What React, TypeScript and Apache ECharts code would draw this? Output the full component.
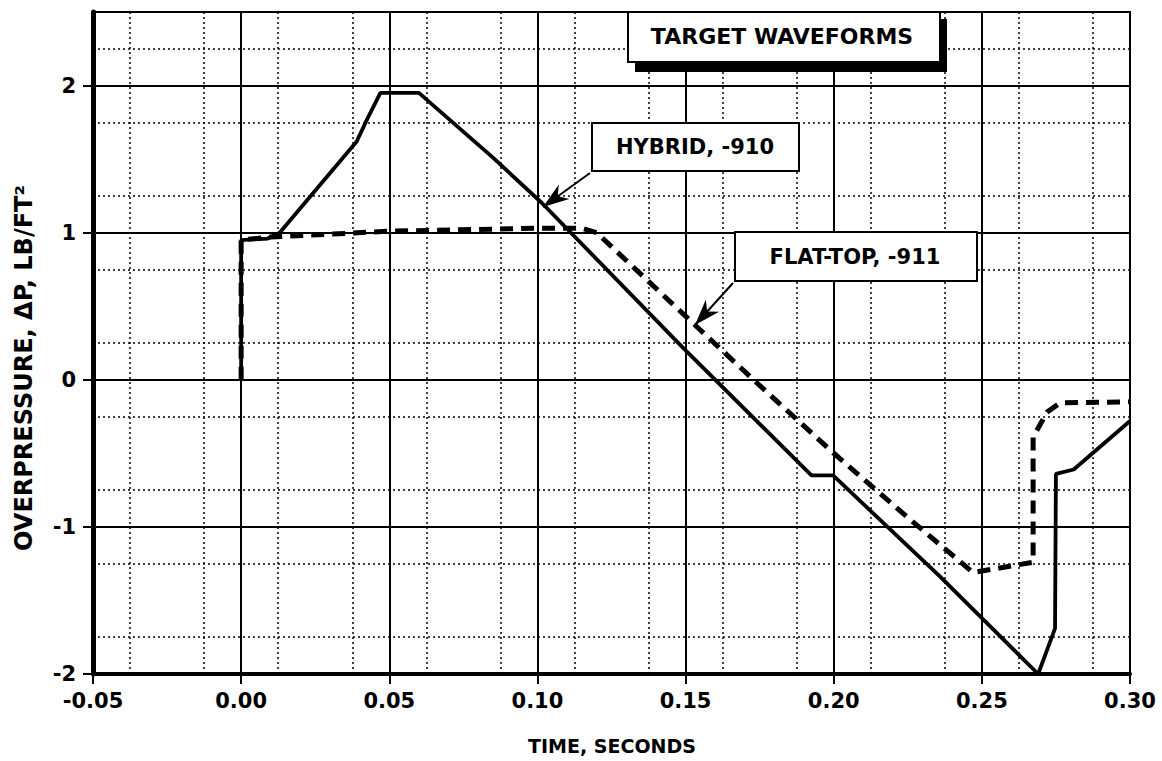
import React, { useEffect, useRef } from "react";
import * as echarts from "echarts";

const xTickValues = [-0.05, 0, 0.05, 0.1, 0.15, 0.2, 0.25, 0.3];
const yTickValues = [-2, -1, 0, 1, 2];

const hybridX = [0, 0, 0.009, 0.013, 0.039, 0.0425, 0.047, 0.06, 0.085, 0.1016, 0.149, 0.1925, 0.1998, 0.236, 0.269, 0.2747, 0.275, 0.281, 0.3];
const hybridY = [0, 0.95, 0.96, 1.0, 1.62, 1.77, 1.95, 1.95, 1.51, 1.2, 0.22, -0.65, -0.65, -1.34, -2.0, -1.69, -0.64, -0.61, -0.28];

const flatX = [0, 0, 0.01, 0.05, 0.1, 0.115, 0.12, 0.148, 0.174, 0.1995, 0.2258, 0.247, 0.2673, 0.2673, 0.272, 0.2764, 0.3];
const flatY = [0, 0.95, 0.97, 1.01, 1.03, 1.03, 1.0, 0.47, -0.02, -0.49, -0.95, -1.31, -1.24, -0.39, -0.22, -0.157, -0.15];

const FONT = '"DejaVu Sans", "Liberation Sans", sans-serif';

function arrowHead(fx: number, fy: number, tx: number, ty: number, len: number, hw: number) {
  const dx = tx - fx, dy = ty - fy;
  const L = Math.hypot(dx, dy);
  const ux = dx / L, uy = dy / L;
  const nx = -uy, ny = ux;
  const bx = tx - ux * len, by = ty - uy * len;
  const mx = tx - ux * len * 0.7, my = ty - uy * len * 0.7;
  return [
    [tx, ty],
    [bx + nx * hw, by + ny * hw],
    [mx, my],
    [bx - nx * hw, by - ny * hw],
  ];
}

function label(text: string, x: number, y: number, size: number, rot = 0) {
  return {
    type: "text",
    x,
    y,
    rotation: rot,
    z: 110,
    style: {
      text,
      fill: "#000",
      fontFamily: FONT,
      fontWeight: "bold",
      fontSize: size,
      align: "center",
      verticalAlign: "middle",
    },
  };
}

export default function App() {
  const ref = useRef<HTMLDivElement>(null);
  useEffect(() => {
    if (!ref.current) return;
    const chart = echarts.init(ref.current, undefined, { renderer: "svg" });
    const hybrid = hybridX.map((x, i) => [x, hybridY[i]]);
    const flat = flatX.map((x, i) => [x, flatY[i]]);

    const hyFrom = [590, 173], hyTip = [543, 207];
    const ftFrom = [733, 283], ftTip = [695, 325];

    chart.setOption({
      animation: false,
      backgroundColor: "#fff",
      grid: {
        left: 93,
        right: 32,
        top: 12,
        bottom: 87,
        show: true,
        borderColor: "#000",
        borderWidth: 2,
        backgroundColor: "#fff",
      },
      xAxis: {
        type: "value",
        min: -0.05,
        max: 0.3,
        interval: 0.025,
        axisLine: { show: true, onZero: false, lineStyle: { color: "#000", width: 4 } },
        axisTick: {
          show: true,
          customValues: xTickValues,
          length: 10,
          lineStyle: { color: "#000", width: 2 },
        },
        axisLabel: {
          customValues: xTickValues,
          formatter: (v: number) => v.toFixed(2),
          color: "#000",
          fontFamily: FONT,
          fontWeight: "bold",
          fontSize: 21,
          margin: 16,
        },
        splitLine: { show: true, lineStyle: { color: "#000", width: 2 } },
        minorTick: { show: false, splitNumber: 2 },
        minorSplitLine: { show: true, lineStyle: { color: "#000", width: 1.5, type: [2, 3] } },
      },
      yAxis: {
        type: "value",
        min: -2,
        max: 2.5,
        interval: 0.5,
        axisLine: { show: true, onZero: false, lineStyle: { color: "#000", width: 5 } },
        axisTick: {
          show: true,
          customValues: yTickValues,
          length: 10,
          lineStyle: { color: "#000", width: 2 },
        },
        axisLabel: {
          customValues: yTickValues,
          formatter: (v: number) => String(Math.round(v)),
          color: "#000",
          fontFamily: FONT,
          fontWeight: "bold",
          fontSize: 21,
          margin: 17,
        },
        splitLine: { show: true, lineStyle: { color: "#000", width: 2 } },
        minorTick: { show: false, splitNumber: 2 },
        minorSplitLine: { show: true, lineStyle: { color: "#000", width: 1.5, type: [2, 3] } },
      },
      series: [
        {
          name: "HYBRID, -910",
          type: "line",
          data: hybrid,
          showSymbol: false,
          symbol: "none",
          z: 5,
          lineStyle: { color: "#000", width: 3.8 },
        },
        {
          name: "FLAT-TOP, -911",
          type: "line",
          data: flat,
          showSymbol: false,
          symbol: "none",
          z: 4,
          lineStyle: { color: "#000", width: 5, type: [13, 8] },
        },
      ],
      graphic: [
        { type: "rect", z: 100, shape: { x: 635, y: 19, width: 312, height: 53 }, style: { fill: "#000" } },
        { type: "rect", z: 101, shape: { x: 628, y: 12, width: 312, height: 50 }, style: { fill: "#fff", stroke: "#000", lineWidth: 2 } },
        label("TARGET WAVEFORMS", 782, 36, 22),
        { type: "rect", z: 101, shape: { x: 592, y: 123, width: 207, height: 48 }, style: { fill: "#fff", stroke: "#000", lineWidth: 2 } },
        label("HYBRID, -910", 695, 147, 21),
        { type: "rect", z: 101, shape: { x: 735, y: 232, width: 242, height: 49 }, style: { fill: "#fff", stroke: "#000", lineWidth: 2 } },
        label("FLAT-TOP, -911", 855, 257, 21),
        { type: "line", z: 102, shape: { x1: hyFrom[0], y1: hyFrom[1], x2: hyTip[0], y2: hyTip[1] }, style: { stroke: "#000", lineWidth: 2 } },
        { type: "polygon", z: 102, shape: { points: arrowHead(hyFrom[0], hyFrom[1], hyTip[0], hyTip[1], 26, 9) }, style: { fill: "#000" } },
        { type: "line", z: 102, shape: { x1: ftFrom[0], y1: ftFrom[1], x2: ftTip[0], y2: ftTip[1] }, style: { stroke: "#000", lineWidth: 2 } },
        { type: "polygon", z: 102, shape: { points: arrowHead(ftFrom[0], ftFrom[1], ftTip[0], ftTip[1], 26, 9) }, style: { fill: "#000" } },
        label("TIME, SECONDS", 612, 746, 19),
        label("OVERPRESSURE, ΔP, LB/FT²", 24, 368, 24, Math.PI / 2),
      ],
    });
    return () => chart.dispose();
  }, []);
  return (
    <div
      ref={ref}
      style={{ position: "fixed", left: 0, top: 0, width: 1162, height: 761, background: "#fff" }}
    />
  );
}
